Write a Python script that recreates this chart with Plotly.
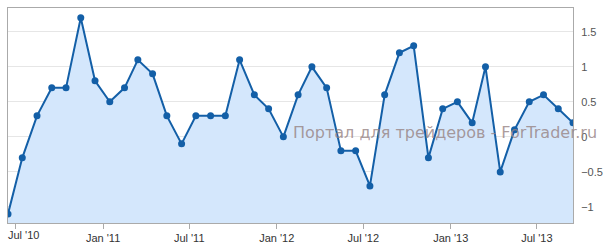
import plotly.graph_objects as go
import pandas as pd

months = pd.date_range("2010-06-01", periods=40, freq="MS") + pd.Timedelta(days=14)
dates = [d.strftime("%Y-%m-%d") for d in months]
values = [-1.1, -0.3, 0.3, 0.7, 0.7, 1.7, 0.8,
          0.5, 0.7, 1.1, 0.9, 0.3, -0.1, 0.3, 0.3, 0.3, 1.1, 0.6, 0.4,
          0.0, 0.6, 1.0, 0.7, -0.2, -0.2, -0.7, 0.6, 1.2, 1.3, -0.3, 0.4,
          0.5, 0.2, 1.0, -0.5, 0.1, 0.5, 0.6, 0.4, 0.2]
x_ticks = ["2010-07-01", "2011-01-01", "2011-07-01", "2012-01-01",
           "2012-07-01", "2013-01-01", "2013-07-01"]
x_tick_labels = ["Jul '10", "Jan '11", "Jul '11", "Jan '12",
                 "Jul '12", "Jan '13", "Jul '13"]
y_ticks = [-1, -0.5, 0, 0.5, 1, 1.5]
y_tick_labels = ["−1", "−0.5", "0", "0.5", "1", "1.5"]
y_range = [-1.23, 1.84]
watermark = "Портал для трейдеров - ForTrader.ru"

line_color = "#135fa7"
fill_color = "#d4e7fc"
tick_font = dict(family="Liberation Sans", size=11, color="#333")

fig = go.Figure()
fig.add_trace(go.Scatter(
    x=dates, y=[y_range[0]] * len(dates), mode="lines",
    line=dict(width=0, color=fill_color), hoverinfo="skip", showlegend=False))
fig.add_trace(go.Scatter(
    x=dates, y=values, mode="lines+markers", fill="tonexty",
    fillcolor=fill_color,
    line=dict(color=line_color, width=2),
    marker=dict(color=line_color, size=7),
    showlegend=False))

fig.add_annotation(
    text=watermark, xref="paper", yref="paper", x=0.5, y=0.42,
    xanchor="left", yanchor="middle", showarrow=False,
    font=dict(family="DejaVu Sans", size=16, color="rgba(150,130,130,0.8)"))

# first x label is pushed inside the chart, as in the reference
fig.add_annotation(
    text=x_tick_labels[0], x=x_ticks[0], xref="x", yref="paper", y=0,
    xanchor="left", yanchor="top", xshift=-10, yshift=-4,
    showarrow=False, font=tick_font)

fig.update_layout(
    width=607, height=248,
    margin=dict(l=8, r=34, t=8, b=25),
    paper_bgcolor="white", plot_bgcolor="white",
    font=tick_font,
)
fig.update_xaxes(
    type="date", range=[dates[0], dates[-1]], automargin=False,
    tickvals=x_ticks, ticktext=[""] + x_tick_labels[1:],
    showgrid=False, showline=True, linecolor="#aaa", linewidth=1, mirror=True,
    ticks="outside", ticklen=5, tickcolor="#aaa",
    tickfont=tick_font,
)
fig.update_yaxes(
    side="right", range=y_range, tickvals=y_ticks, ticktext=y_tick_labels,
    automargin=False,
    showgrid=True, gridcolor="#e6e6e6", zeroline=False,
    showline=True, linecolor="#aaa", linewidth=1, mirror=True,
    ticks="", ticklabelstandoff=5,
    tickfont=dict(family="Liberation Sans", size=11, color="#555"),
)

fig.write_html("out.html")
